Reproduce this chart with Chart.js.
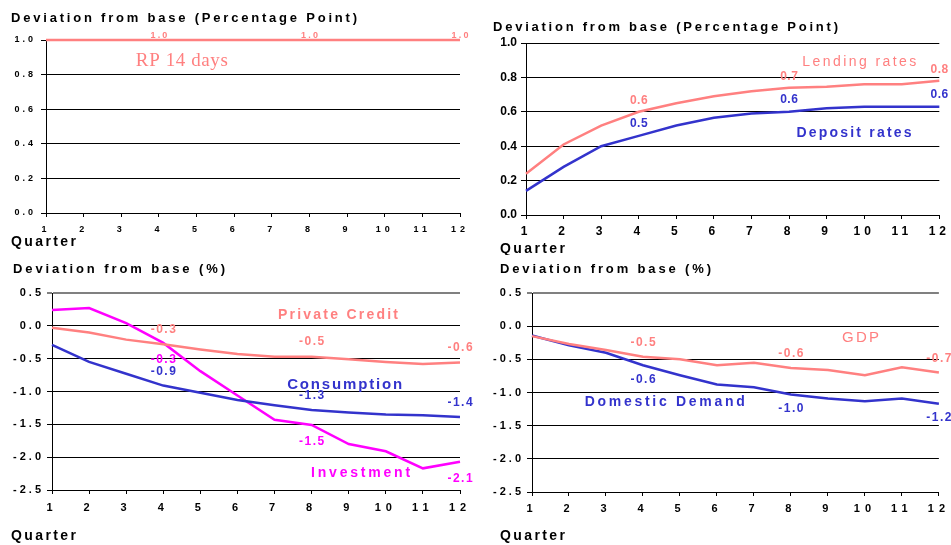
<!DOCTYPE html>
<html>
<head>
<meta charset="utf-8">
<script src="https://cdn.jsdelivr.net/npm/chart.js@4.4.0/dist/chart.umd.min.js"></script>
<style>
  body { margin: 0; background: #fff; }
  #wrap { position: relative; width: 951px; height: 545px; overflow: hidden; background: #fff; }
  canvas { position: absolute; }
</style>
</head>
<body>
<div id="wrap">
  <canvas id="tl" width="476" height="250" style="left:0;top:0"></canvas>
  <canvas id="tr" width="475" height="255" style="left:476px;top:0"></canvas>
  <canvas id="bl" width="476" height="290" style="left:0;top:255px"></canvas>
  <canvas id="br" width="475" height="290" style="left:476px;top:255px"></canvas>
</div>
<script>
// --- data ---
const quarters = ["1", "2", "3", "4", "5", "6", "7", "8", "9", "10", "11", "12"];

const rp14 = [1.0, 1.0, 1.0, 1.0, 1.0, 1.0, 1.0, 1.0, 1.0, 1.0, 1.0, 1.0];
const lendingRates = [0.24, 0.41, 0.52, 0.60, 0.65, 0.69, 0.72, 0.74, 0.745, 0.76, 0.76, 0.78];
const depositRates = [0.14, 0.28, 0.40, 0.46, 0.52, 0.565, 0.59, 0.60, 0.62, 0.63, 0.63, 0.63];

const privateCredit = [-0.03, -0.10, -0.21, -0.28, -0.36, -0.43, -0.47, -0.47, -0.51, -0.55, -0.58, -0.56];
const consumption = [-0.29, -0.55, -0.73, -0.91, -1.02, -1.13, -1.21, -1.28, -1.32, -1.35, -1.36, -1.39];
const investment = [0.24, 0.27, 0.04, -0.26, -0.69, -1.06, -1.43, -1.51, -1.80, -1.91, -2.17, -2.07];

const gdp = [-0.15, -0.27, -0.36, -0.46, -0.50, -0.59, -0.55, -0.63, -0.66, -0.74, -0.62, -0.70];
const domesticDemand = [-0.14, -0.29, -0.40, -0.59, -0.74, -0.88, -0.92, -1.03, -1.09, -1.13, -1.09, -1.17];

const labelledQuarters = [3, 7, 11]; // indexes of quarters 4, 8, 12

const PINK = "#ff8080";
const BLUE = "#3333cc";
const MAGENTA = "#ff00ff";
const FAM = "'Liberation Sans', Arial, sans-serif";

// draws text; either stretched to a given width or with a fixed letter spacing
function txt(ctx, s, x, y, o) {
  ctx.save();
  ctx.font = o.font;
  ctx.fillStyle = o.color || "#000";
  ctx.textAlign = "left";
  ctx.textBaseline = "middle";
  ctx.letterSpacing = "0px";
  const w0 = ctx.measureText(s).width;
  const n = Math.max(s.length - 1, 1);
  const ls = o.width ? (o.width - w0) / n : (o.ls || 0);
  const total = w0 + ls * n;
  ctx.letterSpacing = ls + "px";
  ctx.fillText(s, o.align === "center" ? x - total / 2 : x, y);
  ctx.restore();
}

function decor(p) {
  return {
    id: "decor",
    beforeDraw(chart) { chart.ctx.letterSpacing = p.yLs + "px"; },
    afterDatasetsDraw(chart) { chart.ctx.letterSpacing = p.xLs + "px"; },
    afterDraw(chart) {
      const ctx = chart.ctx;
      ctx.letterSpacing = "0px";
      const sx = chart.scales.x, sy = chart.scales.y;

      txt(ctx, p.title, p.titlePos[0], p.titlePos[1], { font: "bold 13px " + FAM, width: p.titlePos[2] });
      txt(ctx, "Quarter", p.quarterPos[0], p.quarterPos[1], { font: "bold 14px " + FAM, width: 65 });

      p.names.forEach(nm => {
        txt(ctx, nm.text, sx.getPixelForValue(nm.q - 1), sy.getPixelForValue(nm.v),
          { font: nm.font, color: nm.color, width: nm.width, align: "center" });
      });

      p.values.forEach(vl => {
        const s = p.series[vl.s];
        labelledQuarters.forEach(i => {
          txt(ctx, s.data[i].toFixed(1), sx.getPixelForValue(i), sy.getPixelForValue(s.data[i]) + vl.dy,
            { font: p.valueFont, color: s.color, ls: p.valueLs, align: "center" });
        });
      });
      ctx.letterSpacing = "0px";
    }
  };
}

function makePanel(id, p) {
  new Chart(document.getElementById(id), {
    type: "line",
    data: {
      labels: quarters,
      datasets: p.series.map(s => ({
        data: s.data, borderColor: s.color, borderWidth: 2.5,
        pointRadius: 0, tension: 0, fill: false, clip: 4
      }))
    },
    options: {
      responsive: false,
      animation: false,
      events: [],
      layout: { padding: { left: 0, top: p.top, right: p.right, bottom: 0 } },
      plugins: { legend: { display: false }, tooltip: { enabled: false } },
      scales: {
        x: {
          offset: false,
          grid: { drawOnChartArea: false, color: "#000", tickLength: 4 },
          border: { color: "#000", width: 1 },
          ticks: {
            color: "#000", font: { family: FAM, size: p.xFont, weight: "bold" },
            padding: p.xPad, maxRotation: 0, autoSkip: false, z: 1
          },
          afterFit: s => { s.height = p.xh; }
        },
        y: {
          min: p.min, max: p.max,
          grid: {
            tickLength: 5,
            color: c => (c.tick && c.tick.value === p.max && p.grayTop) ? "#808080" : "#000",
            lineWidth: c => (c.tick && c.tick.value === p.max && p.grayTop) ? 2 : 1
          },
          border: { color: "#000", width: 1 },
          ticks: {
            stepSize: p.step, color: "#000",
            font: { family: FAM, size: p.yFont, weight: "bold" },
            padding: p.yPad,
            callback: v => Number(v).toFixed(1)
          },
          afterFit: s => { s.width = p.yw; }
        }
      }
    },
    plugins: [decor(p)]
  });
}

// --- top left: policy rate ---
makePanel("tl", {
  series: [{ data: rp14, color: PINK }],
  min: 0, max: 1, step: 0.2,
  top: 40, right: 16, yw: 46, xh: 37,
  xFont: 9, yFont: 9, xLs: 4, yLs: 3, xPad: 7, yPad: 5,
  title: "Deviation from base (Percentage Point)", titlePos: [11, 18, 346],
  quarterPos: [11, 242],
  names: [{ text: "RP 14 days", q: 4.61, v: 0.879, width: 92, font: "19px 'Liberation Serif', 'Times New Roman', serif", color: PINK }],
  values: [{ s: 0, dy: -4 }],
  valueFont: "bold 9px " + FAM, valueLs: 2.2
});

// --- top right: lending and deposit rates ---
makePanel("tr", {
  series: [{ data: lendingRates, color: PINK }, { data: depositRates, color: BLUE }],
  min: 0, max: 1, step: 0.2,
  top: 43, right: 11, yw: 50, xh: 40,
  xFont: 12, yFont: 12, xLs: 4, yLs: 0, xPad: 5, yPad: 4,
  title: "Deviation from base (Percentage Point)", titlePos: [17, 27, 345],
  quarterPos: [24, 249],
  names: [
    { text: "Lending rates", q: 9.87, v: 0.89, width: 114, font: "14px " + FAM, color: PINK },
    { text: "Deposit rates", q: 9.73, v: 0.477, width: 115, font: "bold 14px " + FAM, color: BLUE }
  ],
  values: [{ s: 0, dy: -11 }, { s: 1, dy: -12 }],
  valueFont: "bold 12px " + FAM, valueLs: 0.5
});

// --- bottom left: credit, consumption, investment ---
makePanel("bl", {
  series: [
    { data: privateCredit, color: PINK },
    { data: consumption, color: BLUE },
    { data: investment, color: MAGENTA }
  ],
  min: -2.5, max: 0.5, step: 0.5, grayTop: true,
  top: 38, right: 16, yw: 52, xh: 55,
  xFont: 11, yFont: 11, xLs: 5, yLs: 3, xPad: 7, yPad: 3,
  title: "Deviation from base (%)", titlePos: [13, 14, 212],
  quarterPos: [11, 281],
  names: [
    { text: "Private Credit", q: 8.71, v: 0.16, width: 120, font: "bold 14px " + FAM, color: PINK },
    { text: "Consumption", q: 8.89, v: -0.90, width: 115, font: "bold 15px " + FAM, color: BLUE },
    { text: "Investment", q: 9.32, v: -2.24, width: 99, font: "bold 14px " + FAM, color: MAGENTA }
  ],
  values: [{ s: 0, dy: -15 }, { s: 1, dy: -14 }, { s: 2, dy: 17 }],
  valueFont: "bold 12px " + FAM, valueLs: 1.5
});

// --- bottom right: GDP and domestic demand ---
makePanel("br", {
  series: [{ data: gdp, color: PINK }, { data: domesticDemand, color: BLUE }],
  min: -2.5, max: 0.5, step: 0.5, grayTop: true,
  top: 38, right: 11, yw: 56, xh: 53,
  xFont: 11, yFont: 11, xLs: 5, yLs: 3, xPad: 6, yPad: 3,
  title: "Deviation from base (%)", titlePos: [24, 14, 211],
  quarterPos: [24, 281],
  names: [
    { text: "GDP", q: 9.88, v: -0.18, width: 37, font: "15px " + FAM, color: PINK },
    { text: "Domestic Demand", q: 4.59, v: -1.14, width: 160, font: "bold 14px " + FAM, color: BLUE }
  ],
  values: [{ s: 0, dy: -14 }, { s: 1, dy: 14 }],
  valueFont: "bold 12px " + FAM, valueLs: 1.5
});
</script>
</body>
</html>
